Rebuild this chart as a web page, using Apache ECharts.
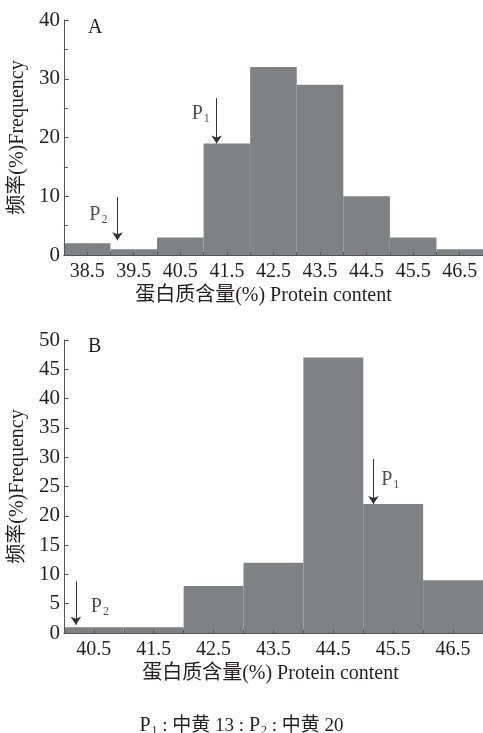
<!DOCTYPE html>
<html>
<head>
<meta charset="utf-8">
<script src="https://cdn.jsdelivr.net/npm/echarts@6/dist/echarts.min.js"></script>
<style>
  html, body { margin: 0; padding: 0; background: #fff; }
  #chart { width: 483px; height: 733px; }
</style>
</head>
<body>
<div id="chart"></div>
<script>
/* ---------- data ---------- */
const catsA = ['38.5', '39.5', '40.5', '41.5', '42.5', '43.5', '44.5', '45.5', '46.5']
const freqA = [2, 1, 3, 19, 32, 29, 10, 3, 1]
const catsB = ['40.5', '41.5', '42.5', '43.5', '44.5', '45.5', '46.5']
const freqB = [1, 1, 8, 12, 47, 22, 9]

// arrows: [x, yStart, yEnd], labels: [x, y, subscript]
const arrowsA = [[41.28, 26.7, 19], [39.15, 9.9, 2.5]]
const labelsA = [[40.94, 24.1, '1'], [38.74, 6.8, '2']]
const arrowsB = [[45.17, 29.7, 22], [40.2, 8.8, 1.4]]
const labelsB = [[45.45, 26.1, '1'], [40.6, 4.5, '2']]

const SERIF = "'Liberation Serif', 'Noto Sans CJK SC', serif"
const INK = '#231f20'
const AXIS = '#555'
const BAR = '#808185'
const xTitle = '蛋白质含量(%) Protein content'
const yTitle = '频率(%)Frequency'

const subRich = {
  p: { fontFamily: SERIF, fontSize: 20, fontWeight: 'normal', color: INK, lineHeight: 22 },
  s: { fontFamily: SERIF, fontSize: 12, fontWeight: 'normal', color: INK, lineHeight: 22, verticalAlign: 'bottom', padding: [8, 0, 0, 1] },
  t: { fontFamily: SERIF, fontSize: 19, fontWeight: 'normal', color: INK, lineHeight: 22 }
}

const chart = echarts.init(document.getElementById('chart'))

function catAxis(grid, cats, padRight) {
  return {
    gridIndex: grid, type: 'category', data: cats, position: 'bottom',
    axisLine: { show: false }, axisTick: { show: false },
    axisLabel: { fontFamily: SERIF, fontSize: 20, color: INK, margin: 7 },
    name: xTitle, nameLocation: 'middle', nameGap: 31,
    nameTextStyle: { fontFamily: SERIF, fontSize: 20, color: INK, padding: [0, padRight, 0, 0] }
  }
}

function tickAxis(grid, min, max) {
  return {
    gridIndex: grid, type: 'value', min: min, max: max, interval: 0.5, position: 'bottom', z: 5,
    axisLine: { show: true, lineStyle: { color: AXIS, width: 1 } },
    axisTick: { show: true, inside: true, length: 3, lineStyle: { color: AXIS } },
    axisLabel: { show: false }, splitLine: { show: false }
  }
}

function valAxis(grid, max, interval, minor) {
  return {
    gridIndex: grid, type: 'value', min: 0, max: max, interval: interval, z: 5,
    axisLine: { show: true, lineStyle: { color: AXIS, width: 1 } },
    axisTick: { show: true, inside: true, length: 5, lineStyle: { color: AXIS } },
    minorTick: { show: minor, splitNumber: 2, length: 4, lineStyle: { color: AXIS } },
    axisLabel: { fontFamily: SERIF, fontSize: 21, color: INK, margin: 4 },
    splitLine: { show: false },
    name: yTitle, nameLocation: 'middle', nameGap: 24,
    nameTextStyle: { fontFamily: SERIF, fontSize: 20, color: INK }
  }
}

function barSeries(xi, yi, data) {
  return {
    type: 'bar', xAxisIndex: xi, yAxisIndex: yi, data: data,
    barCategoryGap: '0%', silent: true,
    itemStyle: { color: BAR, borderColor: BAR, borderWidth: 1.5 }
  }
}

function arrowSeries(xi, yi, arrows) {
  return {
    type: 'lines', coordinateSystem: 'cartesian2d', xAxisIndex: xi, yAxisIndex: yi, z: 6,
    symbol: ['none', 'arrow'], symbolSize: 8,
    lineStyle: { color: '#333', width: 1, opacity: 1 },
    data: arrows.map(a => ({ coords: [[a[0], a[1]], [a[0], a[2]]] }))
  }
}

function labelSeries(xi, yi, labels) {
  return {
    type: 'scatter', xAxisIndex: xi, yAxisIndex: yi, symbolSize: 0, z: 6,
    data: labels.map(l => ({ value: [l[0], l[1]], name: l[2] })),
    label: {
      show: true, position: 'inside',
      formatter: p => '{p|P}{s|' + p.name + '}', rich: subRich
    }
  }
}

chart.setOption({
  animation: false,
  title: [
    { text: 'A', left: 83, top: 13, textStyle: { fontFamily: SERIF, fontSize: 20, fontWeight: 'normal', color: INK } },
    { text: 'B', left: 83, top: 332, textStyle: { fontFamily: SERIF, fontSize: 20, fontWeight: 'normal', color: INK } },
    {
      text: '{p|P}{s|1}{t| : 中黄 13 : }{p|P}{s|2}{t| : 中黄 20}',
      left: 'center', top: 710,
      textStyle: { fontWeight: 'normal', rich: subRich }
    }
  ],
  grid: [
    { left: 62, top: 20, width: 421, height: 235 },
    { left: 62, top: 340, width: 424, height: 293 }
  ],
  xAxis: [
    catAxis(0, catsA, 20),
    tickAxis(0, 38, 47),
    catAxis(1, catsB, 6),
    tickAxis(1, 40, 47)
  ],
  yAxis: [
    valAxis(0, 40, 10, true),
    valAxis(1, 50, 5, false)
  ],
  series: [
    barSeries(0, 0, freqA),
    arrowSeries(1, 0, arrowsA),
    labelSeries(1, 0, labelsA),
    barSeries(2, 1, freqB),
    arrowSeries(3, 1, arrowsB),
    labelSeries(3, 1, labelsB)
  ]
})
</script>
</body>
</html>
